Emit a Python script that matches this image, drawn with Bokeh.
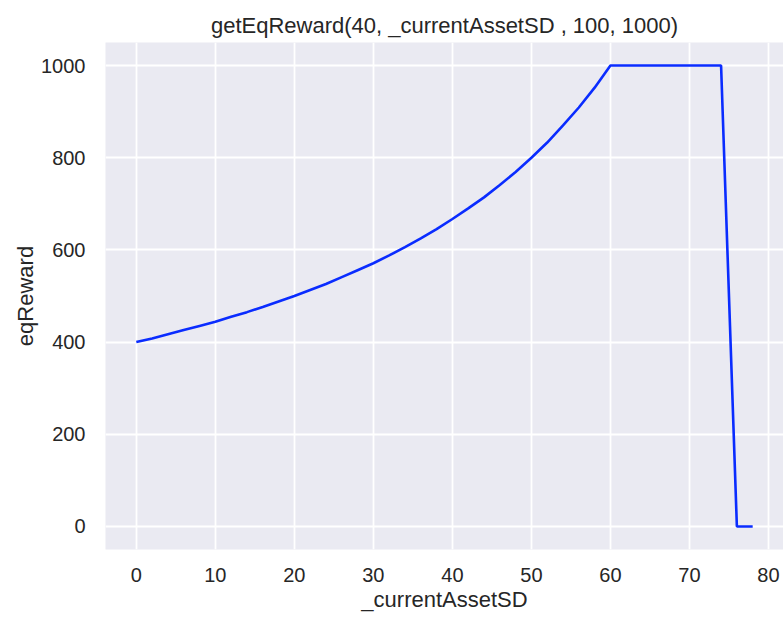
from bokeh.plotting import figure
from bokeh.models import Range1d, FixedTicker
from bokeh.embed import file_html
from bokeh.resources import INLINE

# Data
asset_sd = [0, 2, 4, 6, 8, 10, 12, 14, 16, 18, 20, 22, 24, 26, 28, 30, 32, 34, 36, 38,
            40, 42, 44, 46, 48, 50, 52, 54, 56, 58, 60, 62, 64, 66, 68, 70, 72, 74, 76, 78]
eq_reward = [400, 408, 417, 426, 435, 444, 455, 465, 476, 488, 500, 513, 526, 541, 556,
             571, 588, 606, 625, 645, 667, 690, 714, 741, 769, 800, 833, 870, 909, 952,
             1000, 1000, 1000, 1000, 1000, 1000, 1000, 1000, 0, 0]
x_ticks = [0, 10, 20, 30, 40, 50, 60, 70, 80]
y_ticks = [0, 200, 400, 600, 800, 1000]

FONT = "Liberation Sans"
TXT = "#262626"

p = figure(width=783, height=617, output_backend="svg", toolbar_location=None,
           title="getEqReward(40, _currentAssetSD , 100, 1000)",
           x_range=Range1d(-3.9, 81.9), y_range=Range1d(-50, 1050),
           min_border_left=105, min_border_top=42, min_border_bottom=68, min_border_right=0)

p.background_fill_color = "#EAEAF2"
p.border_fill_color = "white"
p.outline_line_color = None

p.title.text_font = FONT
p.title.text_font_size = "22px"
p.title.text_font_style = "normal"
p.title.text_color = TXT
p.title.align = "center"
p.title.offset = 0

for ax in (p.xaxis[0], p.yaxis[0]):
    ax.axis_line_color = None
    ax.major_tick_line_color = None
    ax.minor_tick_line_color = None
    ax.major_label_text_font = FONT
    ax.major_label_text_font_size = "20px"
    ax.major_label_text_color = TXT
    ax.axis_label_text_font = FONT
    ax.axis_label_text_font_size = "22px"
    ax.axis_label_text_font_style = "normal"
    ax.axis_label_text_color = TXT

p.xaxis.ticker = FixedTicker(ticks=x_ticks)
p.yaxis.ticker = FixedTicker(ticks=y_ticks)
p.xaxis.axis_label = "_currentAssetSD"
p.yaxis.axis_label = "eqReward"
p.xaxis.major_label_standoff = 12
p.yaxis.major_label_standoff = 14
p.xaxis.axis_label_standoff = 2
p.yaxis.axis_label_standoff = 0

p.grid.grid_line_color = "white"
p.grid.grid_line_width = 1.8

p.line(asset_sd, eq_reward, line_color="#0a2cff", line_width=2.6)

open("out.html", "w").write(file_html(p, INLINE))
